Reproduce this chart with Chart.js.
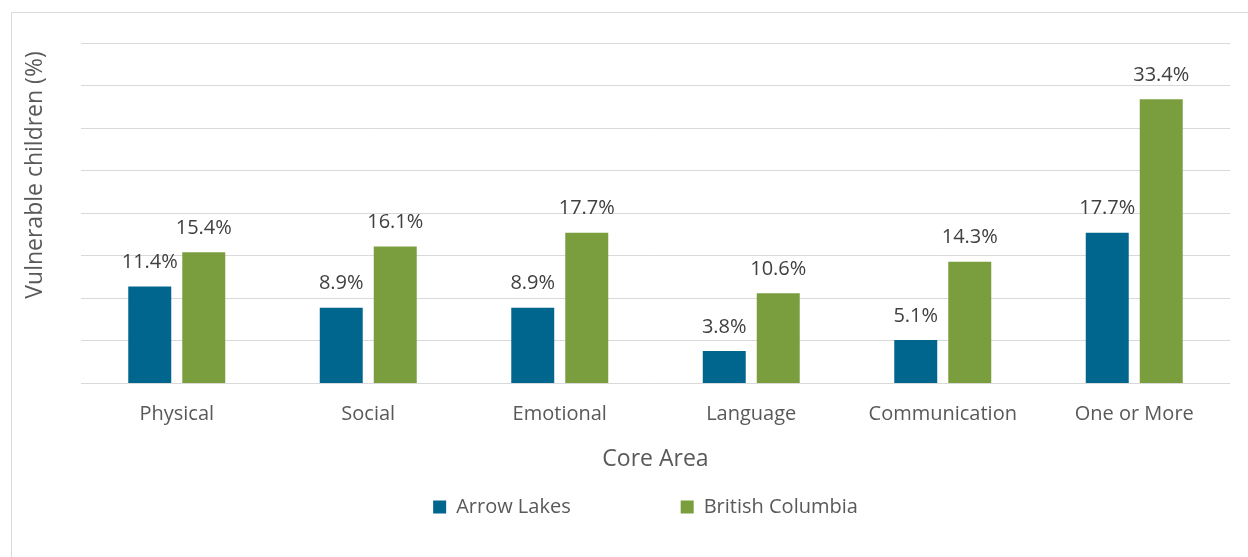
<!DOCTYPE html>
<html>
<head>
<meta charset="utf-8">
<script src="https://cdn.jsdelivr.net/npm/chart.js@4.4.1/dist/chart.umd.min.js"></script>
<style>
  html, body { margin: 0; padding: 0; background: #ffffff; }
  #wrap { position: relative; width: 1248px; height: 557px; }
</style>
</head>
<body>
<div id="wrap"><canvas id="c" width="1248" height="557"></canvas></div>
<script>
const categories = ["Physical", "Social", "Emotional", "Language", "Communication", "One or More"];
const arrowLakes = [11.4, 8.9, 8.9, 3.8, 5.1, 17.7];
const britishColumbia = [15.4, 16.1, 17.7, 10.6, 14.3, 33.4];
const seriesNames = ["Arrow Lakes", "British Columbia"];
const yAxisTitle = "Vulnerable children (%)";
const xAxisTitle = "Core Area";

const FONT = "'Open Sans', 'DejaVu Sans', sans-serif";

const framePlugin = {
  id: 'frame',
  beforeDraw(chart) {
    const ctx = chart.ctx;
    ctx.save();
    ctx.strokeStyle = '#d9d9d9';
    ctx.lineWidth = 1;
    ctx.beginPath();
    ctx.moveTo(11.5, 557);
    ctx.lineTo(11.5, 12.5);
    ctx.lineTo(1248, 12.5);
    ctx.stroke();
    ctx.restore();
  }
};

const yTitlePlugin = {
  id: 'ytitle',
  afterDraw(chart) {
    const ctx = chart.ctx;
    ctx.save();
    ctx.translate(35, 175);
    ctx.rotate(-Math.PI / 2);
    ctx.font = "23px " + FONT;
    ctx.fillStyle = '#595959';
    ctx.textAlign = 'center';
    ctx.textBaseline = 'middle';
    ctx.fillText(yAxisTitle, 0, 0);
    ctx.restore();
  }
};

const valueLabelPlugin = {
  id: 'valueLabels',
  afterDatasetsDraw(chart) {
    const ctx = chart.ctx;
    ctx.save();
    ctx.font = "20px " + FONT;
    ctx.fillStyle = '#404040';
    ctx.textAlign = 'center';
    ctx.textBaseline = 'middle';
    chart.data.datasets.forEach((ds, di) => {
      const meta = chart.getDatasetMeta(di);
      meta.data.forEach((bar, i) => {
        ctx.fillText(ds.data[i].toFixed(1) + '%', bar.x, bar.y - 24);
      });
    });
    ctx.restore();
  }
};

new Chart(document.getElementById('c'), {
  type: 'bar',
  data: {
    labels: categories,
    datasets: [
      { label: seriesNames[0], data: arrowLakes, backgroundColor: '#00668E' },
      { label: seriesNames[1], data: britishColumbia, backgroundColor: '#7A9E3E' }
    ]
  },
  options: {
    responsive: false,
    animation: false,
    devicePixelRatio: 1,
    layout: { padding: { left: 81, right: 18, top: 43, bottom: 30 } },
    datasets: {
      bar: { categoryPercentage: 0.564, barPercentage: 0.796 }
    },
    scales: {
      x: {
        grid: { display: false, drawTicks: false },
        border: { display: false },
        ticks: { color: '#595959', font: { family: FONT, size: 20 }, padding: 19 },
        title: {
          display: true, text: xAxisTitle, color: '#595959',
          font: { family: FONT, size: 23 }, padding: { top: 0, bottom: 4 }
        }
      },
      y: {
        min: 0, max: 40,
        ticks: { display: false, stepSize: 5 },
        grid: { color: '#d9d9d9', lineWidth: 1, drawTicks: false },
        border: { display: false }
      }
    },
    plugins: {
      legend: {
        position: 'bottom',
        labels: {
          color: '#595959',
          font: { family: FONT, size: 20 },
          boxWidth: 13, boxHeight: 13,
          padding: 20,
          generateLabels(chart) {
            const items = Chart.defaults.plugins.legend.labels.generateLabels(chart);
            items.forEach((it, idx) => {
              if (idx < items.length - 1) it.text = it.text + '\u2003\u2003\u2003\u2003\u2002';
              else it.text = it.text + '\u2003';
              it.lineWidth = 0;
            });
            return items;
          }
        }
      },
      tooltip: { enabled: false }
    }
  },
  plugins: [framePlugin, yTitlePlugin, valueLabelPlugin]
});
</script>
</body>
</html>
